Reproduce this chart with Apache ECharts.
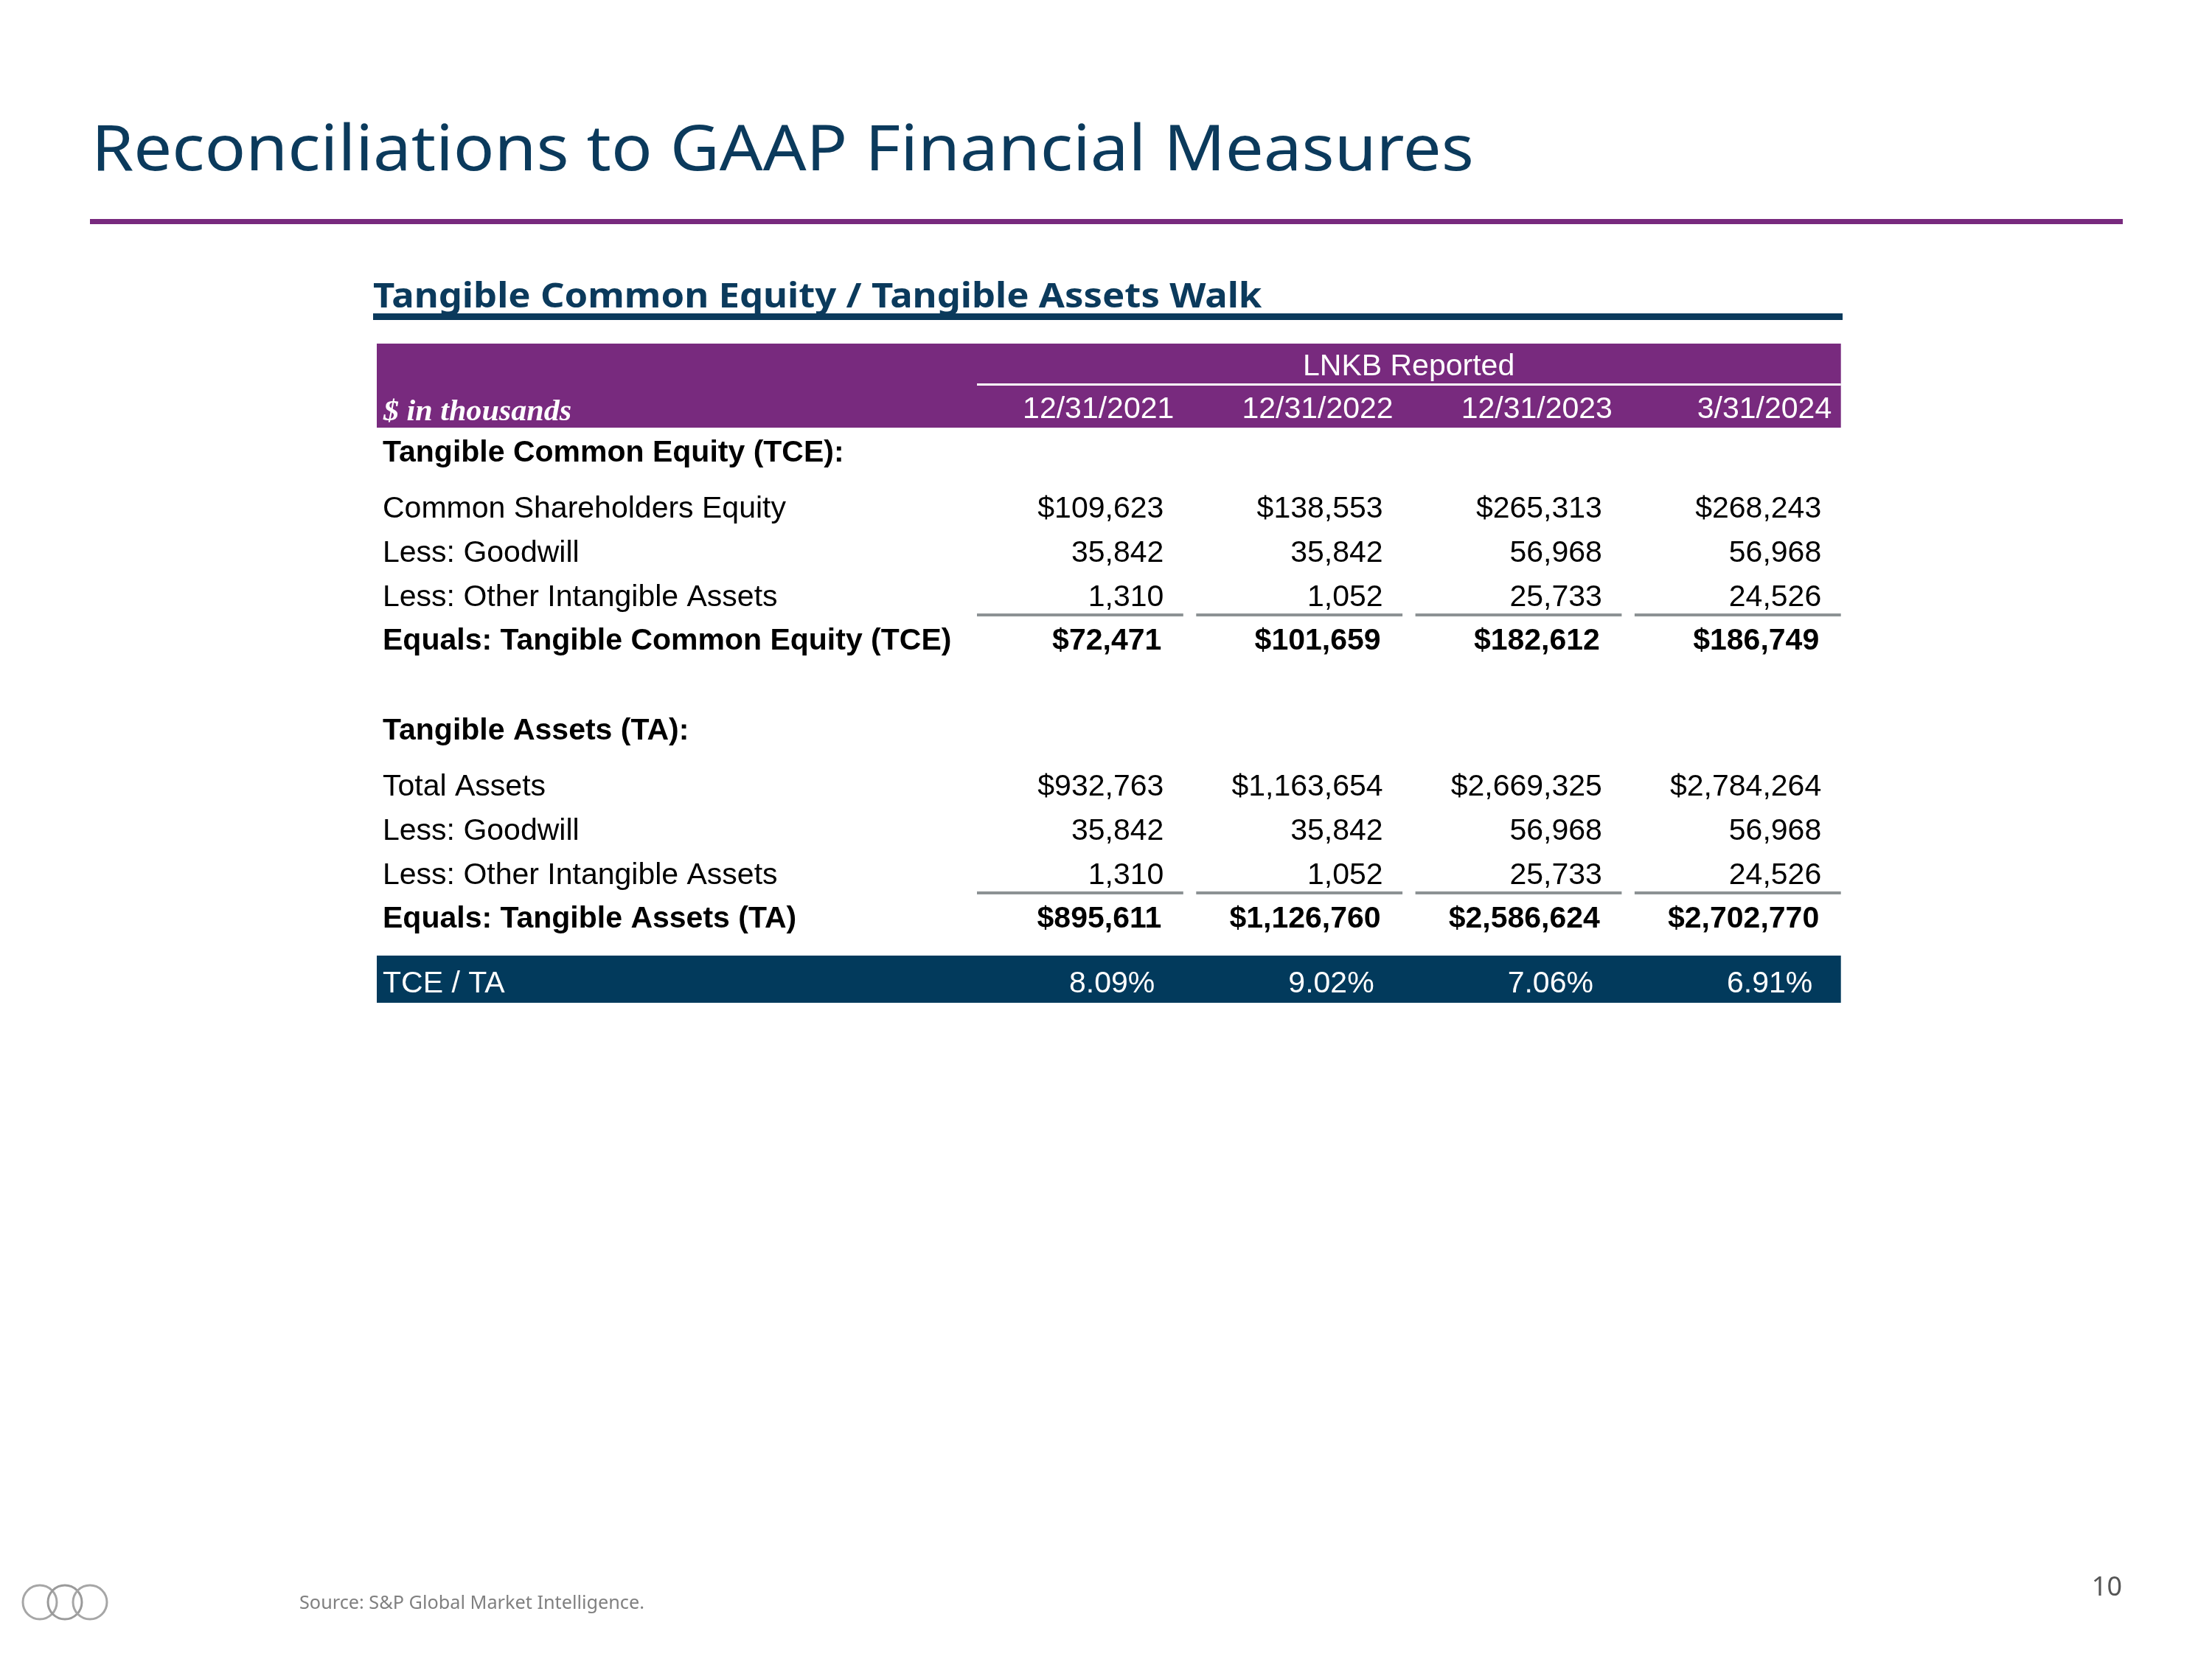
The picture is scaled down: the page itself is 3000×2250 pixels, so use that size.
<!DOCTYPE html>
<html><head><meta charset="utf-8">
<script src="https://cdn.jsdelivr.net/npm/echarts@6/dist/echarts.min.js"></script>
<style>html,body{margin:0;padding:0;background:#fff}#c{width:3000px;height:2250px}</style>
</head><body><div id="c"></div>
<script>
// ---------------- data ----------------
const pageTitle = 'Reconciliations to GAAP Financial Measures';
const tableTitle = 'Tangible Common Equity / Tangible Assets Walk';
const groupHead = 'LNKB Reported';
const unitNote = '$ in thousands';
const columnHeads = ['12/31/2021', '12/31/2022', '12/31/2023', '3/31/2024'];
const rowLabels = [
  'Tangible Common Equity (TCE):',
  'Common Shareholders Equity',
  'Less: Goodwill',
  'Less: Other Intangible Assets',
  'Equals: Tangible Common Equity (TCE)',
  'Tangible Assets (TA):',
  'Total Assets',
  'Less: Goodwill',
  'Less: Other Intangible Assets',
  'Equals: Tangible Assets (TA)',
  'TCE / TA'
];
const commonEquity = [109623, 138553, 265313, 268243];
const goodwill = [35842, 35842, 56968, 56968];
const otherIntangibles = [1310, 1052, 25733, 24526];
const tangibleCommonEquity = [72471, 101659, 182612, 186749];
const totalAssets = [932763, 1163654, 2669325, 2784264];
const tangibleAssets = [895611, 1126760, 2586624, 2702770];
const tceToTa = [8.09, 9.02, 7.06, 6.91];
const sourceNote = 'Source: S&P Global Market Intelligence.';
const pageNumber = '10';

// ---------------- table structure ----------------
const rows = [
  { kind: 'group' },
  { kind: 'colhead' },
  { kind: 'section', label: rowLabels[0] },
  { kind: 'line', label: rowLabels[1], values: commonEquity, dollar: true },
  { kind: 'line', label: rowLabels[2], values: goodwill },
  { kind: 'lineRule', label: rowLabels[3], values: otherIntangibles },
  { kind: 'total', label: rowLabels[4], values: tangibleCommonEquity, dollar: true },
  { kind: 'section', label: rowLabels[5] },
  { kind: 'line', label: rowLabels[6], values: totalAssets, dollar: true },
  { kind: 'line', label: rowLabels[7], values: goodwill },
  { kind: 'lineRule', label: rowLabels[8], values: otherIntangibles },
  { kind: 'total', label: rowLabels[9], values: tangibleAssets, dollar: true },
  { kind: 'ratio', label: rowLabels[10], values: tceToTa, pct: true }
];

// spacing (in axis units) before a row, depending on the previous/current kind
function gapBefore(prev, cur) {
  if (!prev) return 29;
  if (cur === 'colhead') return 58;
  if (cur === 'section' && prev === 'colhead') return 59;
  if (cur === 'section') return 122;
  if (prev === 'section') return 76;
  if (cur === 'ratio') return 85;
  if (cur === 'total') return 59;
  return 60;
}
const rowPos = [];
rows.forEach((r, i) => {
  const p = i === 0 ? 0 : rowPos[i - 1];
  rowPos.push(p + gapBefore(i ? rows[i - 1].kind : null, r.kind));
});

// ---------------- layout / style ----------------
const TABLE_LEFT = 511, LABEL_W = 805, COL_W = 297.3, INSET_L = 9, INSET_R = 8.5;
const VAL_LEFT = TABLE_LEFT + LABEL_W;
const VAL_W = COL_W * columnHeads.length;
const TABLE_RIGHT = VAL_LEFT + VAL_W - INSET_R;
const GRID_TOP = 465, GRID_H = 900;
const TXT_DY = 4;
const PURPLE = '#782a7e', NAVY = '#023a5c', RULE = '#8c9294';
const FF = '"Liberation Sans", Arial, sans-serif';
const HF = '"Noto Sans", "Open Sans", sans-serif';

function fmt(row, v) {
  if (row.pct) return v.toFixed(2) + '%';
  const s = v.toLocaleString('en-US');
  return row.dollar ? '$' + s : s;
}

const labelData = rows.map((r, i) => [0, rowPos[i], i]);
const cellData = [];
rows.forEach((r, i) => {
  if (r.kind === 'group') cellData.push([0, rowPos[i], i]);
  else if (r.kind === 'colhead' || r.values) columnHeads.forEach((h, c) => cellData.push([c, rowPos[i], i]));
});

function renderLabel(params, api) {
  const i = api.value(2);
  const row = rows[i];
  const pt = api.coord([0, api.value(1)]);
  const x0 = params.coordSys.x;
  const children = [];
  if (row.kind === 'group') {
    const yBot = api.coord([0, rowPos[i + 1]])[1] + 28;
    children.push({ type: 'rect', shape: { x: x0, y: pt[1] - 28, width: TABLE_RIGHT - x0, height: yBot - (pt[1] - 28) }, style: { fill: PURPLE } });
  } else if (row.kind === 'colhead') {
    children.push({ type: 'text', x: x0 + 9, y: pt[1] + 4 + TXT_DY, scaleX: 1.08, style: { text: unitNote, fill: '#fff', font: 'italic bold 39px "Liberation Serif", serif', align: 'left', verticalAlign: 'middle' } });
  } else if (row.kind === 'ratio') {
    children.push({ type: 'rect', shape: { x: x0, y: pt[1] - 32, width: TABLE_RIGHT - x0, height: 64 }, style: { fill: NAVY } });
    children.push({ type: 'text', x: x0 + 8, y: pt[1] + 3 + TXT_DY, style: { text: row.label, fill: '#fff', font: '41px ' + FF, align: 'left', verticalAlign: 'middle' } });
  } else {
    const bold = row.kind === 'section' || row.kind === 'total';
    children.push({ type: 'text', x: x0 + 8, y: pt[1] + TXT_DY, style: { text: row.label, fill: '#000', font: (bold ? 'bold ' : '') + '41px ' + FF, align: 'left', verticalAlign: 'middle' } });
  }
  return { type: 'group', children };
}

function renderCell(params, api) {
  const c = api.value(0), i = api.value(2);
  const row = rows[i];
  const pt = api.coord([c, api.value(1)]);
  const w = api.size([1, 0])[0];
  const left = pt[0] - w / 2, right = pt[0] + w / 2;
  const cs = params.coordSys;
  const children = [];
  if (row.kind === 'group') {
    children.push({ type: 'text', x: cs.x + cs.width / 2, y: pt[1] + TXT_DY, style: { text: groupHead, fill: '#fff', font: '41px ' + FF, align: 'center', verticalAlign: 'middle' } });
    children.push({ type: 'rect', shape: { x: cs.x + INSET_L, y: pt[1] + 26, width: cs.width - INSET_L - INSET_R, height: 3 }, style: { fill: '#fff' } });
  } else if (row.kind === 'colhead') {
    children.push({ type: 'text', x: right - 21, y: pt[1] + TXT_DY, style: { text: columnHeads[c], fill: '#fff', font: '41px ' + FF, align: 'right', verticalAlign: 'middle' } });
  } else {
    const v = row.values[c];
    let style = { text: fmt(row, v), fill: '#000', font: '41px ' + FF, align: 'right', verticalAlign: 'middle' };
    let dx = 35, dy = TXT_DY;
    if (row.kind === 'total') { style.font = 'bold 41px ' + FF; dx = 38; }
    if (row.kind === 'ratio') { style.fill = '#fff'; dx = 47; dy = 3 + TXT_DY; }
    children.push({ type: 'text', x: right - dx, y: pt[1] + dy, style });
    if (row.kind === 'lineRule') {
      children.push({ type: 'rect', shape: { x: left + INSET_L, y: pt[1] + 25, width: w - INSET_L - INSET_R, height: 4 }, style: { fill: RULE } });
    }
  }
  return { type: 'group', children };
}

const hiddenAxis = { axisLine: { show: false }, axisTick: { show: false }, axisLabel: { show: false }, splitLine: { show: false } };

const option = {
  backgroundColor: '#ffffff',
  animation: false,
  grid: [
    { left: TABLE_LEFT, top: GRID_TOP, width: LABEL_W, height: GRID_H },
    { left: VAL_LEFT, top: GRID_TOP, width: VAL_W, height: GRID_H }
  ],
  xAxis: [
    Object.assign({ type: 'value', gridIndex: 0, min: 0, max: 1 }, hiddenAxis),
    Object.assign({ type: 'category', gridIndex: 1, data: columnHeads, boundaryGap: true }, hiddenAxis)
  ],
  yAxis: [
    Object.assign({ type: 'value', gridIndex: 0, min: 0, max: GRID_H, inverse: true }, hiddenAxis),
    Object.assign({ type: 'value', gridIndex: 1, min: 0, max: GRID_H, inverse: true }, hiddenAxis)
  ],
  series: [
    { type: 'custom', xAxisIndex: 0, yAxisIndex: 0, z: 2, data: labelData, renderItem: renderLabel, silent: true, clip: false },
    { type: 'custom', xAxisIndex: 1, yAxisIndex: 1, z: 3, data: cellData, renderItem: renderCell, silent: true, clip: false }
  ],
  graphic: [
    { type: 'text', x: 124, y: 206, scaleX: 1.072, style: { text: pageTitle, fill: '#0b3a5c', font: '86px ' + HF, align: 'left', verticalAlign: 'middle' } },
    { type: 'rect', shape: { x: 122, y: 297, width: 2757, height: 7 }, style: { fill: PURPLE } },
    { type: 'text', x: 506, y: 404, scaleX: 1.105, style: { text: tableTitle, fill: '#0b3a5c', font: 'bold 46px ' + HF, align: 'left', verticalAlign: 'middle' } },
    { type: 'rect', shape: { x: 506, y: 425, width: 1993, height: 9 }, style: { fill: '#0b3a5c' } },
    { type: 'text', x: 406, y: 2175, scaleX: 1.01, style: { text: sourceNote, fill: '#808080', font: '25px ' + HF, align: 'left', verticalAlign: 'middle' } },
    { type: 'text', x: 2878, y: 2154, style: { text: pageNumber, fill: '#555555', font: '36px ' + HF, align: 'right', verticalAlign: 'middle' } },
    { type: 'circle', shape: { cx: 54, cy: 2173, r: 23 }, style: { fill: 'none', stroke: '#a6a6a6', lineWidth: 3 } },
    { type: 'circle', shape: { cx: 88, cy: 2173, r: 23 }, style: { fill: 'none', stroke: '#9a9a9a', lineWidth: 3 } },
    { type: 'circle', shape: { cx: 122, cy: 2173, r: 23 }, style: { fill: 'none', stroke: '#a6a6a6', lineWidth: 3 } }
  ]
};

const chart = echarts.init(document.getElementById('c'), null, { renderer: 'canvas' });
chart.setOption(option);
</script>
</body></html>
